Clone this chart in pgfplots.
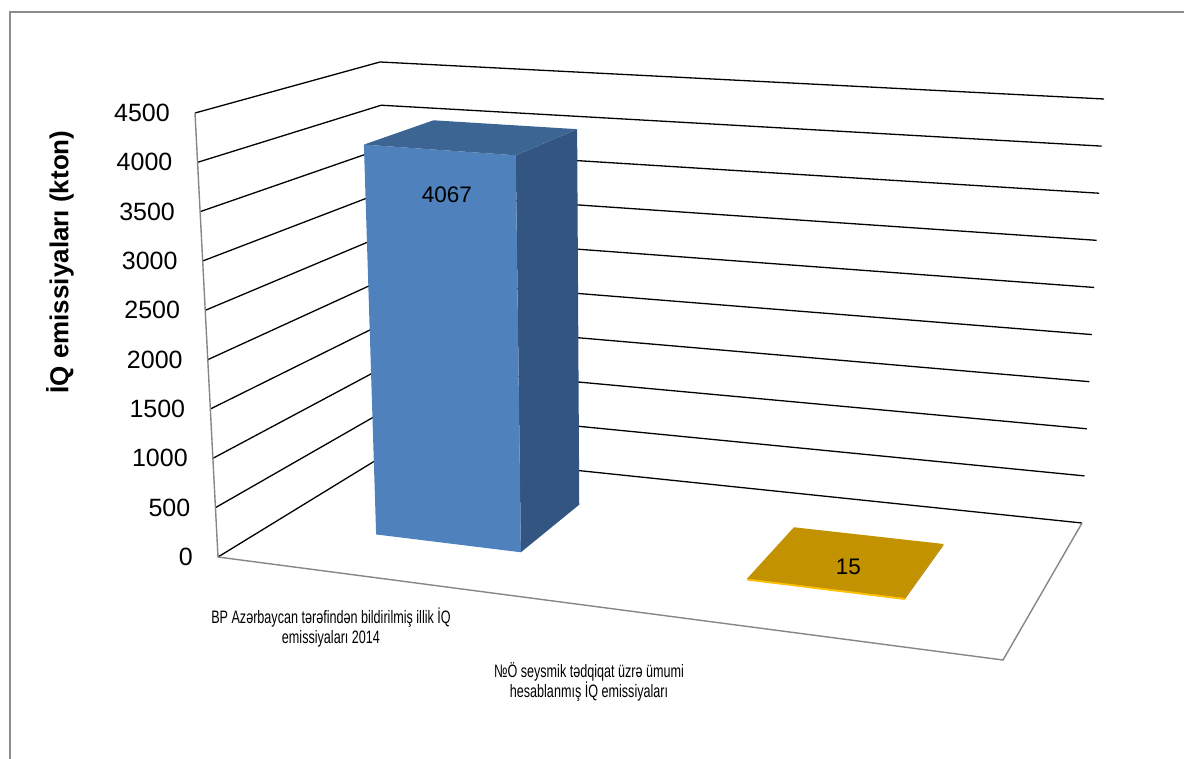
\documentclass[border=0pt]{standalone}
\usepackage{pgfplots}
\pgfplotsset{compat=1.18}
\usepackage{pgfplotstable}
\usepackage{fontspec}
\setmainfont{Liberation Sans}
\newfontfamily\narrowfont[FakeStretch=0.7]{Liberation Sans}
\definecolor{frontblue}{HTML}{4F81BD}
\definecolor{topblue}{HTML}{3D6593}
\definecolor{sideblue}{HTML}{335581}
\definecolor{topgold}{HTML}{C39200}
\definecolor{frontgold}{HTML}{FFC000}
\definecolor{sidegold}{HTML}{A67C00}
\definecolor{axisgray}{HTML}{868686}
\definecolor{framegray}{HTML}{8C8C8C}

\pgfplotsset{
  /pgfplots/table/persp/.style={
    x expr={px(\thisrow{u},\thisrow{d},\thisrow{z})},
    y expr={py(\thisrow{u},\thisrow{d},\thisrow{z})}},
}

% bar 1 faces (u = category position, d = depth, z = value in kton)
\pgfplotstableread{
u d z
0.326 0.33 0
0.326 0.74 0
0.326 0.74 4067
0.326 0.33 4067
}\barAright
\pgfplotstableread{
u d z
0.134 0.33 0
0.326 0.33 0
0.326 0.33 4067
0.134 0.33 4067
}\barAfront
\pgfplotstableread{
u d z
0.134 0.33 4067
0.326 0.33 4067
0.326 0.74 4067
0.134 0.74 4067
}\barAtop
% bar 2 faces
\pgfplotstableread{
u d z
0.835 0.33 0
0.835 0.74 0
0.835 0.74 15
0.835 0.33 15
}\barBright
\pgfplotstableread{
u d z
0.626 0.33 0
0.835 0.33 0
0.835 0.33 15
0.626 0.33 15
}\barBfront
\pgfplotstableread{
u d z
0.626 0.33 15
0.835 0.33 15
0.835 0.74 15
0.626 0.74 15
}\barBtop

\begin{document}
\begin{tikzpicture}
\begin{axis}[
  scale only axis, width=1184bp, height=758bp,
  xmin=0, xmax=1184, ymin=0, ymax=758, y dir=reverse,
  hide axis, clip=true,
  declare function={
    px(\ua,\da,\za)=(1-\za/4500)*(218+785*\ua+173*\da-94*\ua*\da)+(\za/4500)*(195+830*\ua+185*\da-106*\ua*\da);
    py(\ua,\da,\za)=(1-\za/4500)*(557+103*\ua-106*\da-31*\ua*\da)+(\za/4500)*(113+59*\ua-51*\da-22*\ua*\da);
  },
]
\path (axis cs:0,0) rectangle (axis cs:1184,758);

% chart frame
\addplot[color=framegray, line width=1.6bp] coordinates {(10,760) (10,12) (1190,12)};

% gridlines on side and back walls
\pgfplotsinvokeforeach{0,500,...,4500}{
  \addplot[black, line width=1.3bp] table[persp, row sep=\\]{u d z\\0 0 #1\\0 1 #1\\1 1 #1\\};
}
% floor front and right edges
\addplot[axisgray, line width=1.4bp] table[persp, row sep=\\]{u d z\\0 0 0\\1 0 0\\1 1 0\\};
% vertical axis
\addplot[axisgray, line width=1.4bp] table[persp, row sep=\\]{u d z\\0 0 0\\0 0 4500\\};

% tick labels
\addplot[draw=none, nodes near coords, point meta=explicit symbolic,
  nodes near coords style={anchor=east, inner sep=0pt, xshift=-25bp,
    font=\fontsize{25bp}{29bp}\selectfont}]
  table[persp, meta=lab]{
u d z lab
0 0 0 0
0 0 500 500
0 0 1000 1000
0 0 1500 1500
0 0 2000 2000
0 0 2500 2500
0 0 3000 3000
0 0 3500 3500
0 0 4000 4000
0 0 4500 4500
};

% bar 1
\addplot[fill=sideblue, draw=none] table[persp]{\barAright};
\addplot[fill=frontblue, draw=none] table[persp]{\barAfront};
\addplot[fill=topblue, draw=none] table[persp]{\barAtop};
% bar 2
\addplot[fill=sidegold, draw=none] table[persp]{\barBright};
\addplot[fill=frontgold, draw=frontgold, line width=0.8bp] table[persp]{\barBfront};
\addplot[fill=topgold, draw=none] table[persp]{\barBtop};

% data labels
\addplot[draw=none, nodes near coords, point meta=explicit symbolic,
  nodes near coords style={anchor=center, inner sep=0pt, xshift=7bp, yshift=-45bp,
    font=\fontsize{22.5bp}{26bp}\selectfont}]
  table[persp, meta=lab]{
u d z lab
0.23 0.33 4067 4067
};
\addplot[draw=none, nodes near coords, point meta=explicit symbolic,
  nodes near coords style={anchor=center, inner sep=0pt, xshift=1bp, yshift=-5bp,
    font=\fontsize{22.5bp}{26bp}\selectfont}]
  table[persp, meta=lab]{
u d z lab
0.7305 0.535 15 15
};

% category labels
\node[align=center, inner sep=0pt, font=\narrowfont\fontsize{18bp}{20bp}\selectfont]
  at (axis cs:331,628) {BP Azərbaycan tərəfindən bildirilmiş illik İQ\\emissiyaları 2014};
\node[align=center, inner sep=0pt, font=\narrowfont\fontsize{18bp}{20bp}\selectfont]
  at (axis cs:589,682) {№Ö seysmik tədqiqat üzrə ümumi\\hesablanmış İQ emissiyaları};

% y axis title
\node[rotate=90, inner sep=0pt, font=\bfseries\fontsize{26bp}{30bp}\selectfont]
  at (axis cs:60,262) {İQ emissiyaları (kton)};
\end{axis}
\end{tikzpicture}
\end{document}
